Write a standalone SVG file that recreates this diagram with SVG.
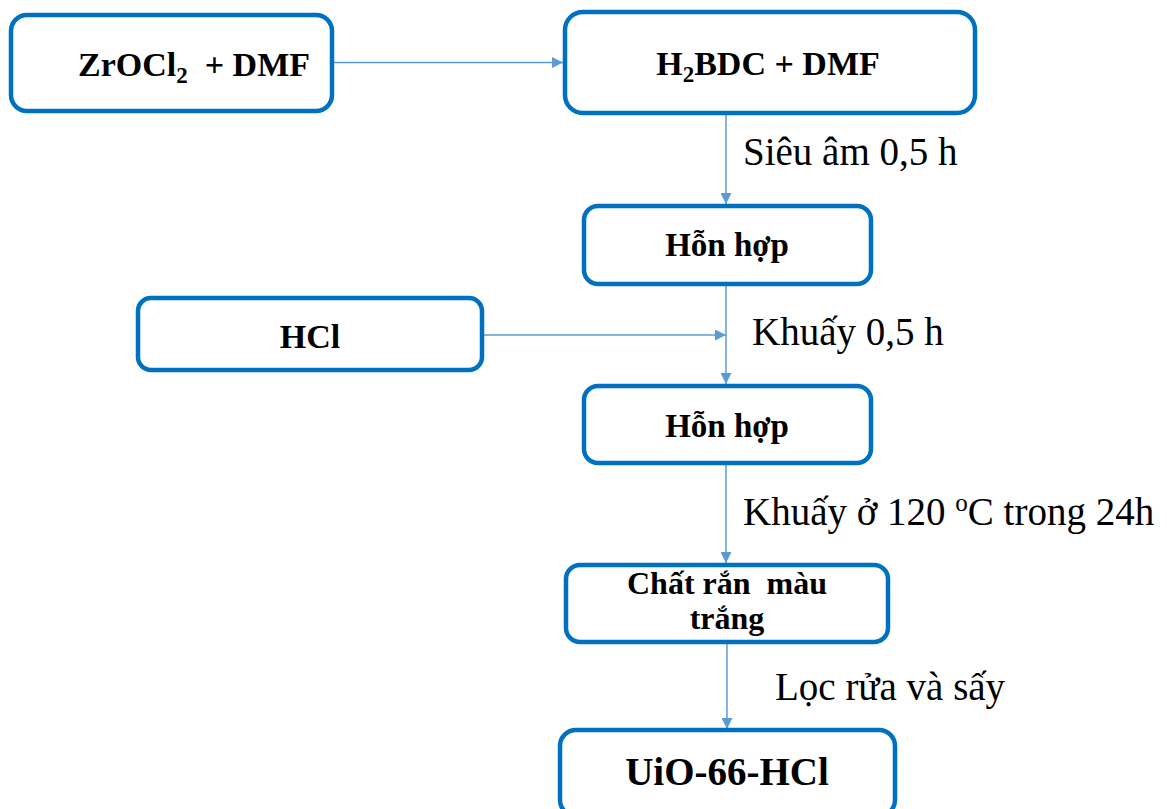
<svg xmlns="http://www.w3.org/2000/svg" width="1167" height="809" viewBox="0 0 1167 809">
  <defs>
    <marker id="arrow" markerWidth="11" markerHeight="11" refX="11" refY="5.5" orient="auto" markerUnits="userSpaceOnUse">
      <path d="M0,0 L11,5.5 L0,11 Z" fill="#5B9BD5"/>
    </marker>
    <style>
      .box { fill: #ffffff; stroke: #0070C0; stroke-width: 4.5; }
      .bt { font-family: "Liberation Serif", "Times New Roman", serif; font-weight: bold; fill: #000; text-anchor: middle; }
      .lbl { font-family: "Liberation Serif", "Times New Roman", serif; fill: #000; font-size: 39px; }
      .pre { white-space: pre; }
      .conn { stroke: #5B9BD5; stroke-width: 1.5; fill: none; marker-end: url(#arrow); }
    </style>
  </defs>

  <rect width="1167" height="809" fill="#ffffff"/>

  <!-- connectors -->
  <g id="connectors">
    <line class="conn" x1="334" y1="62.5" x2="563" y2="62.5"/>
    <line class="conn" x1="726" y1="115" x2="726" y2="204"/>
    <line class="conn" x1="484" y1="335" x2="726" y2="335"/>
    <line class="conn" x1="726" y1="286" x2="726" y2="384"/>
    <line class="conn" x1="726" y1="465" x2="726" y2="563"/>
    <line class="conn" x1="727" y1="644" x2="727" y2="729"/>
  </g>

  <!-- step labels -->
  <g id="labels">
    <text class="lbl" x="743" y="165">Siêu âm 0,5 h</text>
    <text class="lbl" x="752" y="345">Khuấy 0,5 h</text>
    <text class="lbl" x="743" y="525">Khuấy ở 120 <tspan font-size="25" dy="-14">o</tspan><tspan dy="14">C trong 24h</tspan></text>
    <text class="lbl" x="775" y="700">Lọc rửa và sấy</text>
  </g>

  <g id="zrocl2">
    <rect class="box" x="11" y="15" width="321" height="96" rx="16"/>
    <text class="bt pre" x="194" y="76" font-size="34">ZrOCl<tspan font-size="23" dy="7">2</tspan><tspan dy="-7">  + DMF</tspan></text>
  </g>

  <g id="h2bdc">
    <rect class="box" x="565" y="12" width="410" height="101" rx="18"/>
    <text class="bt" x="768" y="75" font-size="34">H<tspan font-size="23" dy="7">2</tspan><tspan dy="-7">BDC + DMF</tspan></text>
  </g>

  <g id="hon-hop-1">
    <rect class="box" x="584" y="206" width="287" height="78" rx="14"/>
    <text class="bt" x="727" y="256" font-size="33">Hỗn hợp</text>
  </g>

  <g id="hcl">
    <rect class="box" x="138" y="298" width="344" height="72" rx="13"/>
    <text class="bt" x="310" y="348" font-size="34">HCl</text>
  </g>

  <g id="hon-hop-2">
    <rect class="box" x="584" y="386" width="287" height="77" rx="14"/>
    <text class="bt" x="727" y="437" font-size="33">Hỗn hợp</text>
  </g>

  <g id="chat-ran">
    <rect class="box" x="566" y="565" width="322" height="77" rx="14"/>
    <text class="bt pre" x="727" y="594" font-size="32">Chất rắn  màu</text>
    <text class="bt" x="727" y="629" font-size="32">trắng</text>
  </g>

  <g id="uio66">
    <rect class="box" x="560" y="730" width="335" height="86" rx="16"/>
    <text class="bt" x="727" y="785" font-size="39">UiO-66-HCl</text>
  </g>
</svg>
